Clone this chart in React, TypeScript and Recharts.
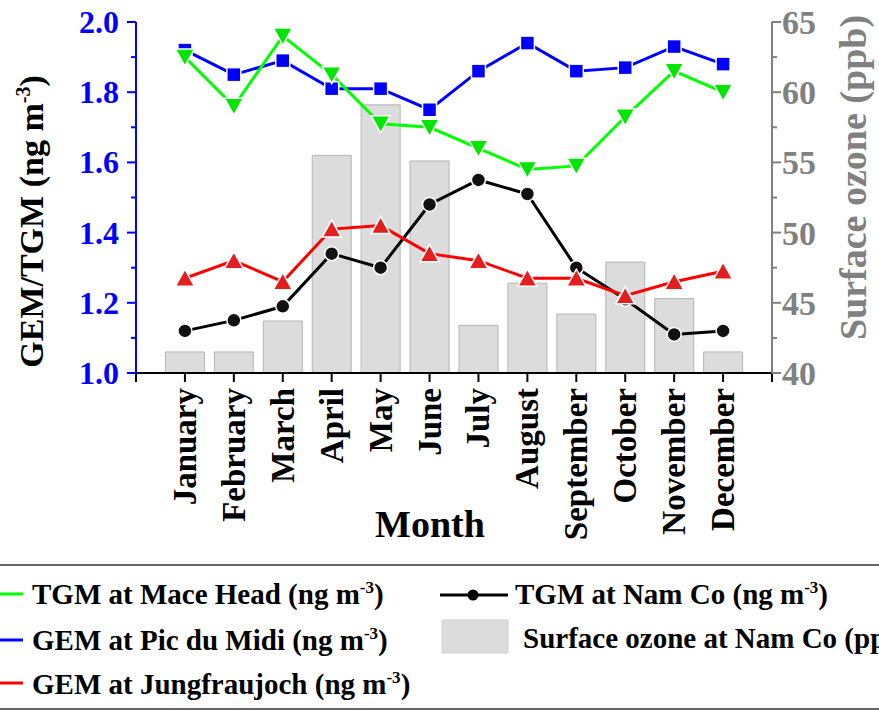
import React from 'react';
import { ComposedChart, Bar, Line, XAxis, YAxis, Label } from 'recharts';

const MONTHS = [
  'January', 'February', 'March', 'April', 'May', 'June',
  'July', 'August', 'September', 'October', 'November', 'December',
];
const MACE_HEAD = [1.90, 1.76, 1.96, 1.85, 1.71, 1.70, 1.64, 1.58, 1.59, 1.73, 1.86, 1.80];
const PIC_DU_MIDI = [1.92, 1.85, 1.89, 1.81, 1.81, 1.75, 1.86, 1.94, 1.86, 1.87, 1.93, 1.88];
const JUNGFRAUJOCH = [1.27, 1.32, 1.26, 1.41, 1.42, 1.34, 1.32, 1.27, 1.27, 1.22, 1.26, 1.29];
const NAM_CO = [1.12, 1.15, 1.19, 1.34, 1.30, 1.48, 1.55, 1.51, 1.30, 1.21, 1.11, 1.12];
const OZONE = [41.5, 41.5, 43.7, 55.5, 59.1, 55.1, 43.4, 46.4, 44.2, 47.9, 45.3, 41.5];

const X_TICKS = [0, 1, 2, 3, 4, 5, 6, 7, 8, 9, 10, 11, 12, 13];
const LEFT_TICKS = [1.0, 1.1, 1.2, 1.3, 1.4, 1.5, 1.6, 1.7, 1.8, 1.9, 2.0];
const RIGHT_TICKS = [40, 42.5, 45, 47.5, 50, 52.5, 55, 57.5, 60, 62.5, 65];

const FONT = "'Liberation Serif', 'Times New Roman', serif";
const GREY = '#808080';

const data = MONTHS.map((month, i) => ({
  pos: i + 1,
  month,
  maceHead: MACE_HEAD[i],
  picDuMidi: PIC_DU_MIDI[i],
  jungfraujoch: JUNGFRAUJOCH[i],
  namCo: NAM_CO[i],
  ozone: OZONE[i],
}));

// marcadores estilo Origin (borde blanco para dejar el hueco en la línea)
const squareDot = (p: any) => (
  <rect key={p.index} x={p.cx - 7} y={p.cy - 7} width={14} height={14} fill="#0000ff" stroke="#fff" strokeWidth={1.5} />
);
const downDot = (p: any) => (
  <polygon key={p.index} points={`${p.cx - 9.5},${p.cy - 8} ${p.cx + 9.5},${p.cy - 8} ${p.cx},${p.cy + 9}`} fill="#00e600" stroke="#fff" strokeWidth={1.5} />
);
const upDot = (p: any) => (
  <polygon key={p.index} points={`${p.cx - 9.5},${p.cy + 8} ${p.cx + 9.5},${p.cy + 8} ${p.cx},${p.cy - 9}`} fill="#e41e1e" stroke="#fff" strokeWidth={1.5} />
);
const circleDot = (p: any) => (
  <circle key={p.index} cx={p.cx} cy={p.cy} r={7} fill="#111" stroke="#fff" strokeWidth={1.5} />
);

const BottomTick = (props: any) => {
  const { x, y, payload } = props;
  const name = MONTHS[payload.value - 1];
  return (
    <g>
      <line x1={x} y1={y} x2={x} y2={y + 9} stroke="#000" strokeWidth={2} />
      {name && (
        <text
          transform={`translate(${x + 11},${y + 15}) rotate(-90)`}
          textAnchor="end"
          fontFamily={FONT}
          fontWeight="bold"
          fontSize={33}
          fill="#000"
        >
          {name}
        </text>
      )}
    </g>
  );
};

const TopTick = (props: any) => {
  const { x, y } = props;
  return <line x1={x} y1={y} x2={x} y2={y + 10} stroke="#000" strokeWidth={2} />;
};

const LeftTick = (props: any) => {
  const { x, y, payload } = props;
  const major = Math.round(payload.value * 10) % 2 === 0;
  return (
    <g>
      <line x1={x} y1={y} x2={x - (major ? 9 : 5)} y2={y} stroke="#0000ff" strokeWidth={2} />
      {major && (
        <text x={x - 17} y={y + 11} textAnchor="end" fontFamily={FONT} fontWeight="bold" fontSize={32} fill="#0000ff">
          {payload.value.toFixed(1)}
        </text>
      )}
    </g>
  );
};

const RightTick = (props: any) => {
  const { x, y, payload } = props;
  const major = payload.value % 5 === 0;
  return (
    <g>
      <line x1={x} y1={y} x2={x + (major ? 9 : 5)} y2={y} stroke={GREY} strokeWidth={2} />
      {major && (
        <text x={x + 10} y={y + 12} textAnchor="start" fontFamily={FONT} fontWeight="bold" fontSize={34} fill={GREY}>
          {payload.value}
        </text>
      )}
    </g>
  );
};

const LeftTitle = (props: any) => {
  const { viewBox } = props;
  const cx = viewBox.x + 43;
  const cy = viewBox.y + viewBox.height / 2 + 24;
  return (
    <text transform={`translate(${cx},${cy}) rotate(-90)`} textAnchor="middle" fontFamily={FONT} fontWeight="bold" fontSize={34} fill="#000">
      GEM/TGM (ng m<tspan dy={-13} fontSize={20}>-3</tspan><tspan dy={13}>)</tspan>
    </text>
  );
};

const RightTitle = (props: any) => {
  const { viewBox } = props;
  const cx = viewBox.x + 94;
  const cy = viewBox.y + viewBox.height / 2 - 20;
  return (
    <text transform={`translate(${cx},${cy}) rotate(-90)`} textAnchor="middle" fontFamily={FONT} fontWeight="bold" fontSize={38} fill={GREY}>
      Surface ozone (ppb)
    </text>
  );
};

const MonthTitle = (props: any) => {
  const { viewBox } = props;
  return (
    <text x={viewBox.x + viewBox.width / 2 - 24} y={viewBox.y + 164} textAnchor="middle" fontFamily={FONT} fontWeight="bold" fontSize={38} fill="#000">
      Month
    </text>
  );
};

const legendText = (x: number, y: number, label: string, unit = true) => (
  <text x={x} y={y} fontFamily={FONT} fontWeight="bold" fontSize={29} fill="#000">
    {label}
    {unit && (
      <>
        {' (ng m'}
        <tspan dy={-11} fontSize={17}>-3</tspan>
        <tspan dy={11}>)</tspan>
      </>
    )}
  </text>
);

const ChartLegend = () => (
  <svg width={879} height={171} style={{ position: 'absolute', left: 0, top: 540 }}>
    <line x1={0} y1={25} x2={879} y2={25} stroke="#666" strokeWidth={2} />
    <line x1={0} y1={169} x2={879} y2={169} stroke="#666" strokeWidth={2} />
    <line x1={0} y1={54} x2={23} y2={54} stroke="#00ff00" strokeWidth={3} />
    {legendText(32, 64, 'TGM at Mace Head')}
    <line x1={0} y1={100} x2={23} y2={100} stroke="#0000ff" strokeWidth={3} />
    {legendText(32, 110, 'GEM at Pic du Midi')}
    <line x1={0} y1={143} x2={23} y2={143} stroke="#ff0000" strokeWidth={3} />
    {legendText(32, 154, 'GEM at Jungfraujoch')}
    <line x1={440} y1={55} x2={508} y2={55} stroke="#000" strokeWidth={3} />
    <circle cx={473} cy={55} r={5.5} fill="#000" />
    {legendText(515, 64, 'TGM at Nam Co')}
    <rect x={442} y={80} width={66} height={33} fill="#dcdcdc" stroke="#d0d0d0" />
    {legendText(523, 108, 'Surface ozone at Nam Co (ppb)', false)}
  </svg>
);

export default function App() {
  return (
    <div style={{ position: 'absolute', left: 0, top: 0, width: 879, height: 711, background: '#fff', overflow: 'hidden' }}>
      <ComposedChart width={879} height={545} data={data} margin={{ top: 22, right: 0, bottom: 0, left: 0 }}>
        <XAxis
          xAxisId="b"
          dataKey="pos"
          type="number"
          domain={[0, 13]}
          ticks={X_TICKS}
          interval={0}
          height={172}
          tickSize={0}
          tickMargin={0}
          tickLine={false}
          tick={BottomTick}
          axisLine={{ stroke: '#000', strokeWidth: 2 }}
        >
          <Label content={MonthTitle} />
        </XAxis>
        <XAxis
          xAxisId="t"
          orientation="top"
          dataKey="pos"
          type="number"
          domain={[0, 13]}
          ticks={X_TICKS}
          interval={0}
          height={0}
          tickSize={0}
          tickMargin={0}
          tickLine={false}
          tick={TopTick}
          axisLine={{ stroke: '#222', strokeWidth: 2 }}
        />
        <YAxis
          yAxisId="l"
          domain={[1, 2]}
          ticks={LEFT_TICKS}
          interval={0}
          width={136}
          tickSize={0}
          tickMargin={0}
          tickLine={false}
          tick={LeftTick}
          axisLine={{ stroke: '#0000ff', strokeWidth: 2 }}
        >
          <Label content={LeftTitle} />
        </YAxis>
        <YAxis
          yAxisId="r"
          orientation="right"
          domain={[40, 65]}
          ticks={RIGHT_TICKS}
          interval={0}
          width={107}
          tickSize={0}
          tickMargin={0}
          tickLine={false}
          tick={RightTick}
          axisLine={{ stroke: GREY, strokeWidth: 2 }}
        >
          <Label content={RightTitle} />
        </YAxis>

        <Bar xAxisId="b" yAxisId="r" dataKey="ozone" barSize={39} fill="#dcdcdc" stroke="#b4b4b4" strokeWidth={1} isAnimationActive={false} />
        <Line xAxisId="b" yAxisId="l" dataKey="namCo" stroke="#000" strokeWidth={3} dot={circleDot} isAnimationActive={false} />
        <Line xAxisId="b" yAxisId="l" dataKey="jungfraujoch" stroke="#ff0000" strokeWidth={3} dot={upDot} isAnimationActive={false} />
        <Line xAxisId="b" yAxisId="l" dataKey="picDuMidi" stroke="#0000ff" strokeWidth={3} dot={squareDot} isAnimationActive={false} />
        <Line xAxisId="b" yAxisId="l" dataKey="maceHead" stroke="#00ff00" strokeWidth={3} dot={downDot} isAnimationActive={false} />
      </ComposedChart>
      <ChartLegend />
    </div>
  );
}
